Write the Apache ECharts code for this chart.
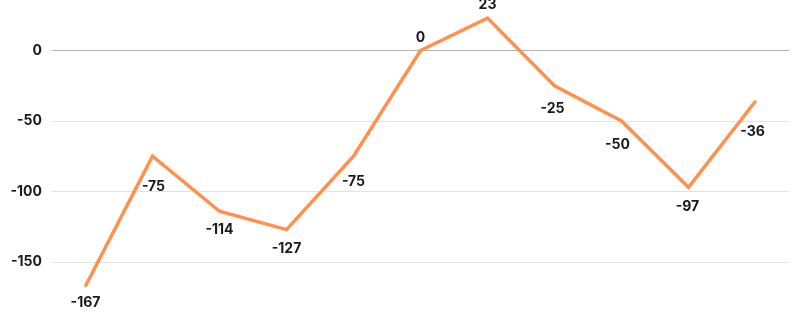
<!DOCTYPE html>
<html>
<head>
<meta charset="utf-8">
<script src="https://cdn.jsdelivr.net/npm/echarts@6/dist/echarts.min.js"></script>
<style>
html,body{margin:0;padding:0;background:#fff;overflow:hidden;width:800px;height:328px;}
#c{position:absolute;left:0;top:-30px;width:800px;height:380px;}
</style>
</head>
<body>
<div id="c"></div>
<script>
var categories = ['1','2','3','4','5','6','7','8','9','10','11'];
var values = [-167, -75, -114, -127, -75, 0, 23, -25, -50, -97, -36];
var yTicks = [-200, -150, -100, -50, 0, 50];
// label centre offsets from each point (style, not data)
var labelOffsets = [[0,17],[1,31],[0,19],[0,19],[0,26],[0,-13],[0,-13],[-2,23],[-4,24],[-1,20],[-3,31]];

var chart = echarts.init(document.getElementById('c'), null, {renderer:'canvas'});
chart.setOption({
  animation: false,
  backgroundColor: '#ffffff',
  grid: { left: 52, right: 11, top: 10, bottom: 17.5, containLabel: false },
  xAxis: {
    type: 'category',
    data: categories,
    boundaryGap: true,
    axisLine: { show: true, onZero: true, lineStyle: { color: '#b3b3b3', width: 1 } },
    axisTick: { show: false },
    axisLabel: { show: false },
    splitLine: { show: false }
  },
  yAxis: {
    type: 'value',
    min: yTicks[0],
    max: yTicks[yTicks.length - 1],
    interval: 50,
    axisLine: { show: false },
    axisTick: { show: false },
    axisLabel: { color: '#1a1a1a', fontFamily: 'Inter', fontWeight: 'bold', fontSize: 14, margin: 10, showMinLabel: false, showMaxLabel: false },
    splitLine: { show: true, lineStyle: { color: '#e3e3e3', width: 1 } }
  },
  series: [{
    type: 'line',
    data: values.map(function (v, i) {
      return {
        value: v,
        label: { offset: labelOffsets[i] }
      };
    }),
    symbol: 'circle',
    symbolSize: 2,
    showSymbol: true,
    itemStyle: { color: '#FF914D' },
    lineStyle: { color: '#FF914D', width: 3.5, join: 'miter' },
    label: {
      show: true,
      position: 'inside',
      color: '#1a1a1a',
      fontFamily: 'Inter',
      fontWeight: 'bold',
      fontSize: 14
    }
  }]
});
</script>
</body>
</html>
